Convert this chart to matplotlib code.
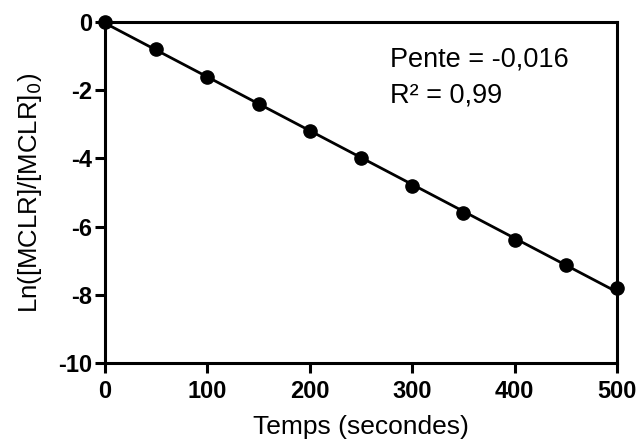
import numpy as np
import matplotlib
matplotlib.use("Agg")
import matplotlib.pyplot as plt

plt.rcParams['font.family'] = ['Liberation Sans', 'DejaVu Sans']

temps = [0, 50, 100, 150, 200, 250, 300, 350, 400, 450, 500]
ln_ratio = [0.0, -0.8, -1.6, -2.4, -3.2, -4.0, -4.8, -5.6, -6.4, -7.13, -7.8]
x_ticks = [0, 100, 200, 300, 400, 500]
y_ticks = [0, -2, -4, -6, -8, -10]

fig = plt.figure(figsize=(6.39, 4.41), dpi=100)
ax = fig.add_axes([105/639, 1 - 363/441, (617-105)/639, (363-22)/441])

# linear regression
slope, intercept = np.polyfit(temps, ln_ratio, 1)
xf = np.array([temps[0], temps[-1]])
ax.plot(xf, slope * xf + intercept, color='black', lw=2.0, zorder=2, clip_on=False)
ax.plot(temps, ln_ratio, 'o', color='black', ms=9.5, zorder=3, clip_on=False)

ax.set_xlim(0, 500)
ax.set_ylim(-10, 0)
ax.set_xticks(x_ticks)
ax.set_yticks(y_ticks)
ax.set_xticklabels([str(t) for t in x_ticks], fontweight='bold', fontsize=17)
ax.set_yticklabels([str(t) for t in y_ticks], fontweight='bold', fontsize=17)
ax.tick_params(direction='out', length=7, width=2.2)
ax.tick_params(axis='x', pad=5)
ax.tick_params(axis='y', pad=2)
for s in ax.spines.values():
    s.set_linewidth(2.2)

ax.set_xlabel('Temps (secondes)', fontsize=19, labelpad=9)
ax.set_ylabel('Ln([MCLR]/[MCLR]$_0$)', fontsize=18.5, labelpad=10)

ax.text(278, -1.3, 'Pente = -0,016', fontsize=19.5, va='baseline', ha='left')
ax.text(278, -2.35, 'R² = 0,99', fontsize=19.5, va='baseline', ha='left')

fig.savefig('out.png', dpi=100)
